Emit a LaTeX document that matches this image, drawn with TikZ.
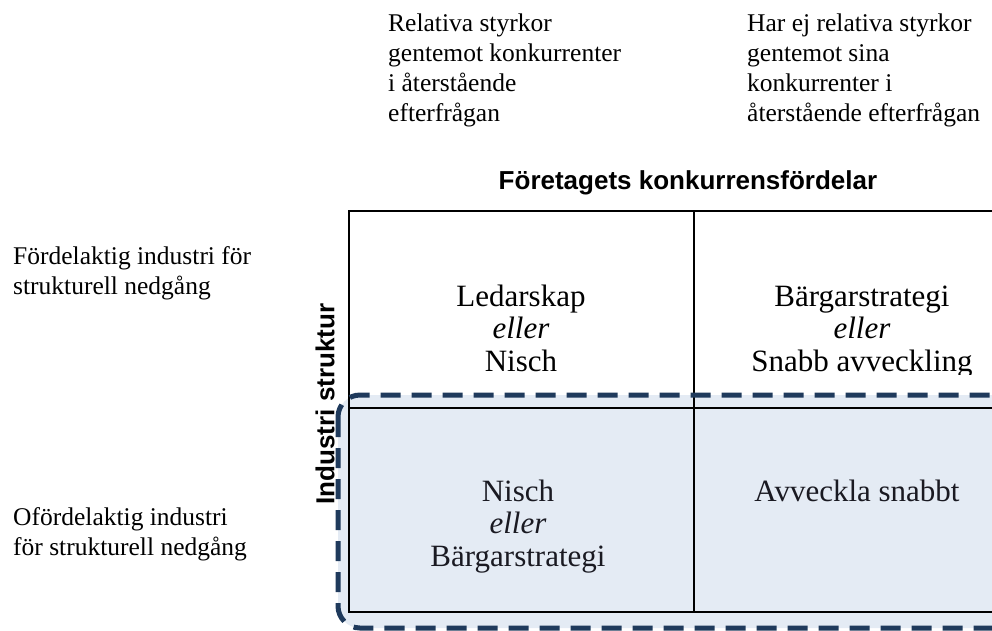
\documentclass[tikz,border=0pt]{standalone}
\usepackage{fontspec}
\setmainfont{Liberation Serif}
\setsansfont{Liberation Sans}
\definecolor{boxfill}{HTML}{E4EBF4}
\definecolor{boxline}{HTML}{1F3A5C}
\definecolor{celltext}{HTML}{1A1A22}

\begin{document}
\begin{tikzpicture}[x=1pt,y=-1pt,
    small/.style={font=\fontsize{25.5}{30}\selectfont, align=left, inner sep=0pt, anchor=base west},
    cell/.style={font=\fontsize{31}{32.5}\selectfont, align=center, inner sep=0pt, anchor=base},
    axis/.style={font=\sffamily\bfseries\fontsize{26}{30}\selectfont, inner sep=0pt},
    grid/.style={draw=black, line width=1.2pt},
    focus/.style={draw=boxline, line width=5pt, dash pattern=on 20pt off 11pt, rounded corners=22pt}]
  \useasboundingbox (0,0) rectangle (992,630);

  % shaded area
  \fill[boxfill, rounded corners=22pt] (338,395) rectangle (1045,628);

  % the matrix
  \draw[grid] (349,211) rectangle (1045,612);
  \draw[grid] (349,408) -- (1045,408);
  \draw[grid] (694,211) -- (694,612);
  \draw[focus] (338,395) rectangle (1045,628);

  % column heads (placed at the baseline of the last line)
  \node (colA) [small] at (388,121)
    {Relativa styrkor\\gentemot konkurrenter\\i återstående\\efterfrågan};
  \node (colB) [small] at (747,121)
    {Har ej relativa styrkor\\gentemot sina\\konkurrenter i\\återstående efterfrågan};

  % row heads
  \node (rowA) [small] at (13,294) {Fördelaktig industri för\\strukturell nedgång};
  \node (rowB) [small] at (13,555) {Ofördelaktig industri\\för strukturell nedgång};

  % axes
  \node (xaxis) [axis] at (688,183) {Företagets konkurrensfördelar};
  \node (yaxis) [axis, rotate=90] at (325,404) {Industri struktur};

  % cells
  \node (cellA) [cell] at (521,371) {Ledarskap\\\textit{eller}\\Nisch};
  \begin{scope}
    \clip (694,211) rectangle (1045,374);
    \node (cellB) [cell] at (862,371) {Bärgarstrategi\\\textit{eller}\\Snabb avveckling};
  \end{scope}
  \node (cellC) [cell, text=celltext] at (518,566) {Nisch\\\textit{eller}\\Bärgarstrategi};
  \node (cellD) [cell, text=celltext] at (857,501) {Avveckla snabbt};
\end{tikzpicture}
\end{document}
